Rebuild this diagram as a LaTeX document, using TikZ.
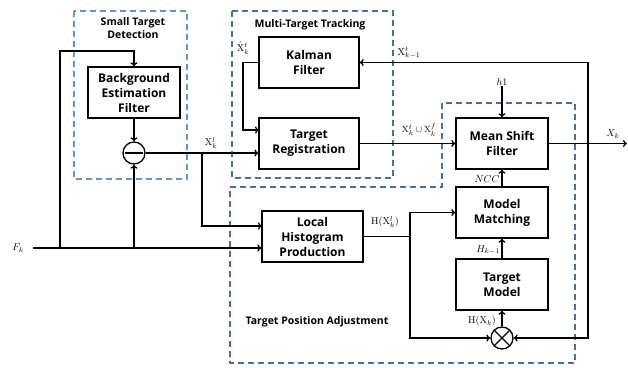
\documentclass[tikz,border=0pt]{standalone}
\usepackage[no-math]{fontspec}
\setmainfont{Open Sans}
\usetikzlibrary{arrows.meta}
\definecolor{grplight}{RGB}{91,150,210}
\definecolor{grpdark}{RGB}{70,110,160}
\begin{document}
\begin{tikzpicture}[x=1pt,y=-1pt,
    block/.style={draw,line width=1.3pt,align=center,inner sep=0pt,
      font=\fontsize{12}{15}\selectfont\bfseries,minimum height=51},
    grp/.style={line width=1.3pt,dash pattern=on 6pt off 4pt},
    grptitle/.style={align=center,font=\fontsize{10.5}{13}\selectfont\bfseries},
    lbl/.style={inner sep=0pt,font=\fontsize{10}{12}\selectfont},
    op/.style={draw,circle,line width=1.3pt,minimum size=22,inner sep=0pt},
    arr/.style={line width=1.3pt,-{To[length=4pt,width=7pt]}}]
  \useasboundingbox (0,0) rectangle (628,367);
  % groups
  \draw[grp,grplight] (74,11) rectangle (187,179);
  \node[grptitle] (stdtitle) at (133,28) {Small Target\\Detection};
  \draw[grp,grpdark] (232,11) rectangle (393,178);
  \node[grptitle] (mtttitle) at (310,25) {Multi-Target Tracking};
  \draw[grp,grpdark] (230,187) -- (442,187) -- (442,103) -- (575,103)
    -- (575,363) -- (230,363) -- cycle;
  \node[grptitle] (tpatitle) at (317,322) {Target Position Adjustment};
  % blocks
  \node[block,minimum width=92] (bef) at (134,92.5) {Background\\Estimation\\Filter};
  \node[block,minimum width=100] (kal) at (309,62.5) {Kalman\\Filter};
  \node[block,minimum width=100] (reg) at (309,143.5) {Target\\Registration};
  \node[block,minimum width=101] (lhp) at (312.5,236.5) {Local\\Histogram\\Production};
  \node[block,minimum width=92] (msf) at (502,143.5) {Mean Shift\\Filter};
  \node[block,minimum width=92] (mm) at (502,212.5) {Model\\Matching};
  \node[block,minimum width=92] (tm) at (502,284.5) {Target\\Model};
  \node[op] (minus) at (134,153) {};
  \draw[line width=1.3pt] ([xshift=3]minus.west) -- ([xshift=-3]minus.east);
  \node[op] (times) at (502,338) {};
  \draw[line width=1.3pt] (times.north west) -- (times.south east)
    (times.north east) -- (times.south west);
  % points
  \coordinate (fk) at (33,248);
  \coordinate (fb) at (60,248);
  \coordinate (br) at (202,153);
  \coordinate (lhpin) at (262,226);
  \coordinate (regin) at (259,130);
  \coordinate (fbr) at (588,143.5);
  \coordinate (out) at (627,143.5);
  \coordinate (hs) at (410,236.5);
  % labels
  \node[lbl] (fklbl) at (18,248) {$F_k$};
  \node[lbl] (xl) at (211,143) {$\mathrm{X}_k^{l}$};
  \node[lbl] (xhat) at (243,48) {$\hat{\mathrm{X}}_k^{t}$};
  \node[lbl] (xprev) at (409,53) {$\mathrm{X}_{k-1}^{t}$};
  \node[lbl,font=\fontsize{9.5}{11}\selectfont] (xun) at (419,130) {$\mathrm{X}_k^{t}\cup\mathrm{X}_k^{f}$};
  \node[lbl] (xout) at (613,134) {$X_k$};
  \node[lbl] (h1) at (502,82) {$h1$};
  \node[lbl] (ncc) at (487,179) {$NCC$};
  \node[lbl] (hprev) at (488,250) {$H_{k-1}$};
  \node[lbl] (hx) at (482,321) {$\mathrm{H}(\mathrm{X}_k)$};
  \node[lbl] (hxl) at (385,222) {$\mathrm{H}(\mathrm{X}_k^{l})$};
  % connections
  \begin{scope}[arr]
    \draw (fk) -- (fk -| lhp.west);
    \draw (fb) -- (60,51) -| (bef.north);
    \draw (bef) -- (minus);
    \draw (fk -| minus) -- (minus.south);
    \draw (minus.east) -- (reg.west |- minus);
    \draw (br) |- (lhpin);
    \draw (kal.west) -- (243,62.5) |- (regin);
    \draw (reg) -- (msf);
    \draw (msf) -- (out);
    \draw (fbr) |- (kal.east);
    \draw (fbr) |- (times.east);
    \draw (h1.south) -- (msf.north);
    \draw (mm) -- (msf);
    \draw (tm) -- (mm);
    \draw (times) -- (tm);
    \draw (hs) |- (mm.west);
    \draw (hs) |- (times.west);
  \end{scope}
  \draw[line width=1.3pt] (lhp.east) -- (hs);
\end{tikzpicture}
\end{document}
